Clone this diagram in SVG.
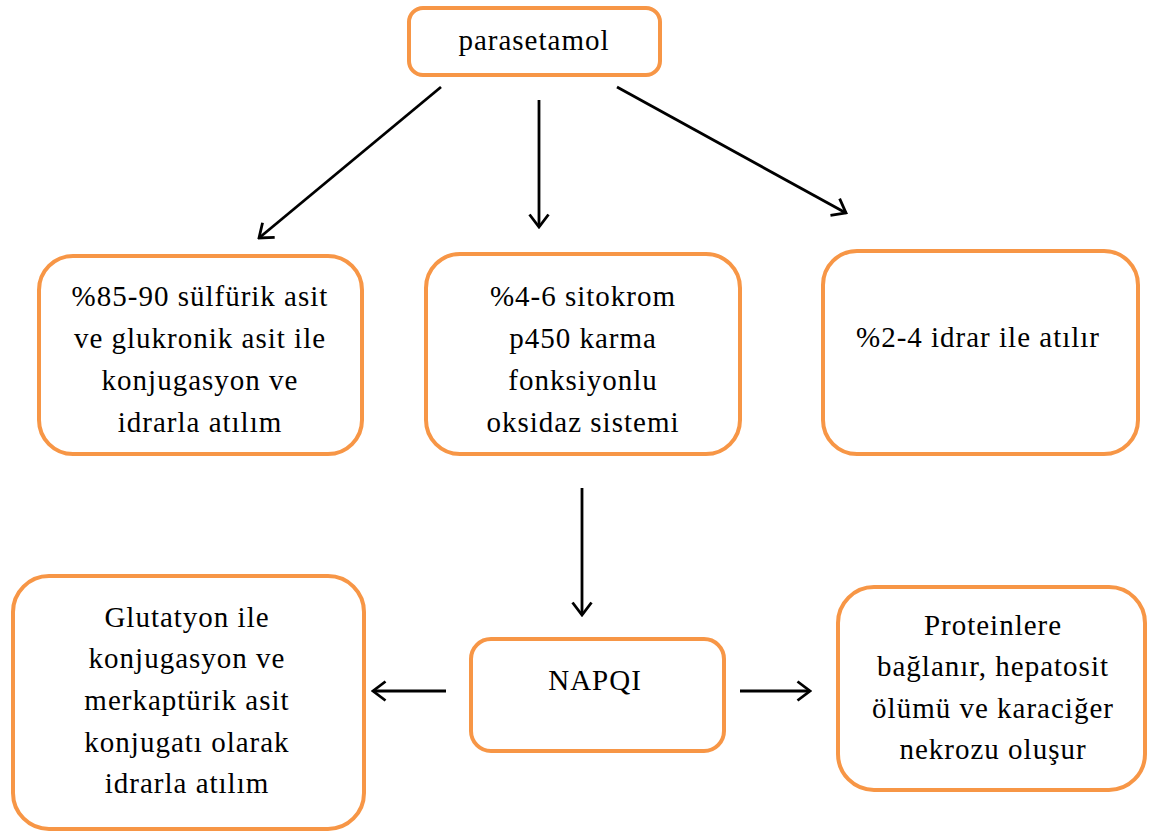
<svg xmlns="http://www.w3.org/2000/svg" width="1149" height="832" viewBox="0 0 1149 832">
<style>
.box{fill:#fff;stroke:#F79646;stroke-width:4}
.t{font-family:"Liberation Serif","Times New Roman",serif;font-size:29px;letter-spacing:1px;fill:#000;text-anchor:middle}
.c{stroke:#000;stroke-width:2.8;fill:none;marker-end:url(#ah)}
</style>
<defs>
<marker id="ah" markerUnits="userSpaceOnUse" viewBox="0 0 16 22" refX="14" refY="11" markerWidth="16" markerHeight="22" orient="auto">
<path d="M1.5,1.5 L14,11 L1.5,20.5" fill="none" stroke="#000" stroke-width="2.8"/>
</marker>
</defs>
<rect width="1149" height="832" fill="#fff"/>
<g id="connectors">
<line class="c" x1="441" y1="87" x2="259" y2="238"/>
<line class="c" x1="539" y1="100" x2="539" y2="227"/>
<line class="c" x1="617" y1="87" x2="846" y2="213"/>
<line class="c" x1="582" y1="488" x2="582" y2="615"/>
<line class="c" x1="446" y1="691" x2="373" y2="691"/>
<line class="c" x1="740" y1="691" x2="810" y2="691"/>
</g>
<g id="parasetamol">
<rect class="box" x="409" y="8" width="251" height="67" rx="14"/>
<text class="t" x="534" y="50">parasetamol</text>
</g>
<g id="sulfurik">
<rect class="box" x="39" y="256" width="323" height="198" rx="34"/>
<text class="t" x="200" y="306">%85-90 sülfürik asit</text>
<text class="t" x="200" y="348">ve glukronik asit ile</text>
<text class="t" x="200" y="390">konjugasyon ve</text>
<text class="t" x="200" y="432">idrarla atılım</text>
</g>
<g id="sitokrom">
<rect class="box" x="426" y="254" width="314" height="200" rx="34"/>
<text class="t" x="583" y="306">%4-6 sitokrom</text>
<text class="t" x="583" y="348">p450 karma</text>
<text class="t" x="583" y="390">fonksiyonlu</text>
<text class="t" x="583" y="432">oksidaz sistemi</text>
</g>
<g id="idrar">
<rect class="box" x="823" y="251" width="315" height="203" rx="34"/>
<text class="t" x="978" y="347">%2-4 idrar ile atılır</text>
</g>
<g id="napqi">
<rect class="box" x="471" y="639" width="253" height="112" rx="20"/>
<text class="t" x="595" y="690">NAPQI</text>
</g>
<g id="glutatyon">
<rect class="box" x="13" y="576" width="351" height="253" rx="36"/>
<text class="t" x="187" y="627">Glutatyon ile</text>
<text class="t" x="187" y="668">konjugasyon ve</text>
<text class="t" x="187" y="710">merkaptürik asit</text>
<text class="t" x="187" y="752">konjugatı olarak</text>
<text class="t" x="187" y="793">idrarla atılım</text>
</g>
<g id="nekroz">
<rect class="box" x="838" y="587" width="307" height="203" rx="36"/>
<text class="t" x="993" y="635">Proteinlere</text>
<text class="t" x="993" y="676">bağlanır, hepatosit</text>
<text class="t" x="993" y="718">ölümü ve karaciğer</text>
<text class="t" x="993" y="759">nekrozu oluşur</text>
</g>
</svg>
